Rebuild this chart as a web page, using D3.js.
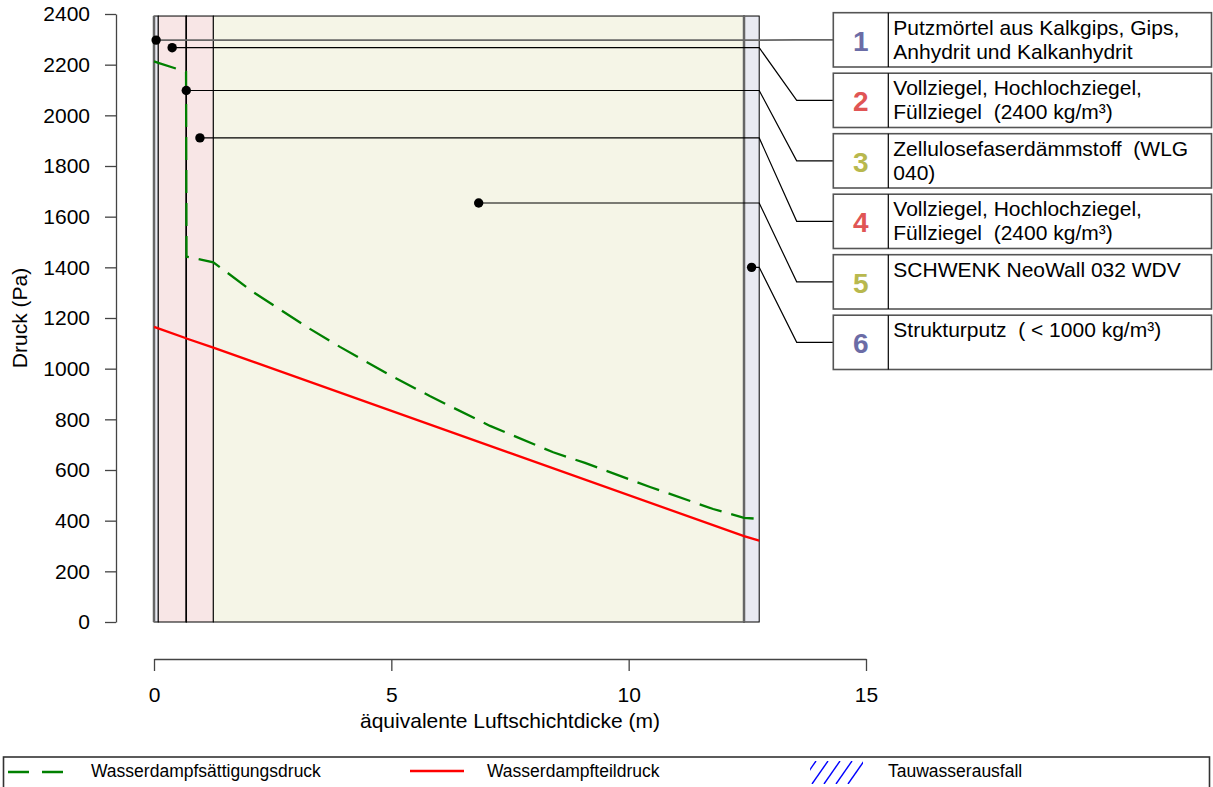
<!DOCTYPE html>
<html>
<head>
<meta charset="utf-8">
<script src="https://cdn.jsdelivr.net/npm/d3@7"></script>
<style>
  body { margin: 0; background: #fff; }
  svg { font-family: Arial, "Liberation Sans", sans-serif; }
</style>
</head>
<body>
<svg id="chart" width="1213" height="787"></svg>
<script>
// layer boundaries, equivalent air layer thickness sd (m)
var layerBounds = [0, 0.09, 0.675, 0.685, 1.25, 12.43, 12.75];
var layerTop = 2392;
var layerKind = ["putz", "ziegel", "daemm", "ziegel", "daemm", "putz"];
var layerNames = [
  "Putzmörtel aus Kalkgips, Gips,\nAnhydrit und Kalkanhydrit",
  "Vollziegel, Hochlochziegel,\nFüllziegel  (2400 kg/m³)",
  "Zellulosefaserdämmstoff  (WLG\n040)",
  "Vollziegel, Hochlochziegel,\nFüllziegel  (2400 kg/m³)",
  "SCHWENK NeoWall 032 WDV",
  "Strukturputz  ( < 1000 kg/m³)"
];
// pressure where each layer's callout dot sits (Pa)
var labelP = [2297, 2267, 2098, 1911, 1654, 1400];

// saturation pressure (Pa)
var satX = [0, 0.09, 0.675, 0.685, 1.25, 2.085, 3.286, 3.918, 4.97, 5.81, 7.08, 8.41, 9.08, 10.45, 11.78, 12.43, 12.75];
var satP = [2213, 2207, 2172, 1442, 1420, 1303, 1157, 1086, 975, 892, 774, 670, 628, 533, 446, 411, 407];
// partial vapour pressure (Pa)
var partX = [0, 0.09, 0.675, 0.685, 1.25, 12.43, 12.75];
var partP = [1165, 1159, 1120, 1119, 1083, 339, 321];

var xTicks = [0, 5, 10, 15];
var yTicks = d3.range(0, 2401, 200);

var svg = d3.select("#chart");
var x = d3.scaleLinear().domain([0, 15]).range([154, 866]);
var y = d3.scaleLinear().domain([0, 2400]).range([622, 14]);

var fillOf = d3.scaleOrdinal().domain(["putz", "ziegel", "daemm"]).range(["#e9eaf2", "#f8e6e6", "#f5f5e7"]);
var numColor = d3.scaleOrdinal().domain(["putz", "ziegel", "daemm"]).range(["#6b6ca6", "#e05555", "#b8b84e"]);

var layers = layerKind.map(function(k, i) {
  return { kind: k, x0: layerBounds[i], x1: layerBounds[i + 1], name: layerNames[i], p: labelP[i], i: i };
});

// layers
svg.append("g").selectAll("rect").data(layers).join("rect")
  .attr("x", function(d) { return x(d.x0); })
  .attr("y", y(layerTop))
  .attr("width", function(d) { return x(d.x1) - x(d.x0); })
  .attr("height", y(0) - y(layerTop))
  .attr("fill", function(d) { return fillOf(d.kind); })
  .attr("stroke", "#000")
  .attr("stroke-width", 1);

svg.append("g").selectAll("line").data(layers.filter(function(d) { return d.kind == "putz"; })).join("line")
  .attr("x1", function(d) { return x(d.x0); })
  .attr("x2", function(d) { return x(d.x0); })
  .attr("y1", y(layerTop))
  .attr("y2", y(0))
  .attr("stroke", "#666")
  .attr("stroke-width", 2.5);

// axes
var yAxis = svg.append("g").attr("transform", "translate(116,0)")
  .call(d3.axisLeft(y).tickValues(yTicks).tickFormat(d3.format("d"))
    .tickSize(11).tickSizeOuter(0).tickPadding(15));
var xAxis = svg.append("g").attr("transform", "translate(0,659)")
  .call(d3.axisBottom(x).tickValues(xTicks).tickFormat(d3.format("d"))
    .tickSize(12).tickSizeOuter(0).tickPadding(16));
[yAxis, xAxis].forEach(function(a) {
  a.selectAll("path, line").attr("stroke", "#444").attr("stroke-width", 1.3);
  a.selectAll("text").attr("font-size", 21).attr("font-family", null).attr("fill", "#000");
});

svg.append("text")
  .attr("x", x(7.5)).attr("y", 728)
  .attr("text-anchor", "middle").attr("font-size", 21)
  .text("äquivalente Luftschichtdicke (m)");
svg.append("text")
  .attr("transform", "translate(27," + y(1200) + ") rotate(-90)")
  .attr("text-anchor", "middle").attr("font-size", 21)
  .text("Druck (Pa)");

// curves
var line = d3.line().x(function(d) { return x(d[0]); }).y(function(d) { return y(d[1]); });
svg.append("path")
  .attr("d", line(d3.zip(partX, partP)))
  .attr("fill", "none").attr("stroke", "#ff0000").attr("stroke-width", 2.3);
svg.append("path")
  .attr("d", line(d3.zip(satX, satP)))
  .attr("fill", "none").attr("stroke", "#008000").attr("stroke-width", 2.3)
  .attr("stroke-dasharray", "23,10");

// callouts
var boxLeft = 833.3, boxRight = 1211.5, boxDiv = 888.3, boxTop0 = 12.7, boxStep = 60.5, boxH = 54.3, elbowX = 796.7;
function boxCY(i) { return boxTop0 + i * boxStep + boxH / 2; }

svg.append("g").selectAll("path").data(layers).join("path")
  .attr("d", function(d) {
    var cx = x((d.x0 + d.x1) / 2), cy = y(d.p), by = boxCY(d.i);
    return "M" + cx + "," + cy + "L" + x(layerBounds[layerBounds.length - 1]) + "," + cy +
      "L" + elbowX + "," + by + "L" + boxLeft + "," + by;
  })
  .attr("fill", "none")
  .attr("stroke", function(d) { return d.i == 0 ? "#666" : "#000"; })
  .attr("stroke-width", function(d) { return d.i == 0 ? 1.8 : 1.2; });

svg.append("g").selectAll("circle").data(layers).join("circle")
  .attr("cx", function(d) { return x((d.x0 + d.x1) / 2); })
  .attr("cy", function(d) { return y(d.p); })
  .attr("r", 4.7)
  .attr("fill", "#000");

var boxes = svg.append("g").selectAll("g").data(layers).join("g")
  .attr("transform", function(d) { return "translate(0," + (boxTop0 + d.i * boxStep) + ")"; });
boxes.append("rect")
  .attr("x", boxLeft).attr("y", 0)
  .attr("width", boxRight - boxLeft).attr("height", boxH)
  .attr("fill", "#fff").attr("stroke", "#555").attr("stroke-width", 1.6);
boxes.append("line")
  .attr("x1", boxDiv).attr("x2", boxDiv).attr("y1", 0).attr("y2", boxH)
  .attr("stroke", "#000").attr("stroke-width", 1.2);
boxes.append("text")
  .attr("x", (boxLeft + boxDiv) / 2).attr("y", 38)
  .attr("text-anchor", "middle").attr("font-size", 28).attr("font-weight", "bold")
  .attr("fill", function(d) { return numColor(d.kind); })
  .text(function(d) { return d.i + 1; });
boxes.append("text")
  .attr("x", boxDiv + 5).attr("y", 22)
  .attr("font-size", 21).style("white-space", "pre")
  .selectAll("tspan").data(function(d) { return d.name.split("\n"); }).join("tspan")
  .attr("x", boxDiv + 5)
  .attr("dy", function(d, j) { return j == 0 ? 0 : 24; })
  .text(function(d) { return d; });

// legend
var legend = svg.append("g");
legend.append("rect")
  .attr("x", 3.5).attr("y", 757).attr("width", 1206).attr("height", 45)
  .attr("fill", "none").attr("stroke", "#333").attr("stroke-width", 1.6);
legend.append("line")
  .attr("x1", 8).attr("x2", 63).attr("y1", 772).attr("y2", 772)
  .attr("stroke", "#008000").attr("stroke-width", 2.3).attr("stroke-dasharray", "21,13");
legend.append("line")
  .attr("x1", 410).attr("x2", 464).attr("y1", 771).attr("y2", 771)
  .attr("stroke", "#ff0000").attr("stroke-width", 2.3);
var clip = svg.append("clipPath").attr("id", "hatchClip");
clip.append("rect").attr("x", 810).attr("y", 761).attr("width", 53).attr("height", 23);
legend.append("g").attr("clip-path", "url(#hatchClip)")
  .selectAll("line").data(d3.range(5)).join("line")
  .attr("x1", function(k) { return 800 + k * 12; }).attr("y1", 784)
  .attr("x2", function(k) { return 816 + k * 12; }).attr("y2", 761)
  .attr("stroke", "#0000ff").attr("stroke-width", 1.4);
legend.selectAll("text.lg").data([
  ["Wasserdampfsättigungsdruck", 91],
  ["Wasserdampfteildruck", 487],
  ["Tauwasserausfall", 888]
]).join("text")
  .attr("class", "lg")
  .attr("x", function(d) { return d[1]; }).attr("y", 777)
  .attr("font-size", 17.5)
  .text(function(d) { return d[0]; });
</script>
</body>
</html>
